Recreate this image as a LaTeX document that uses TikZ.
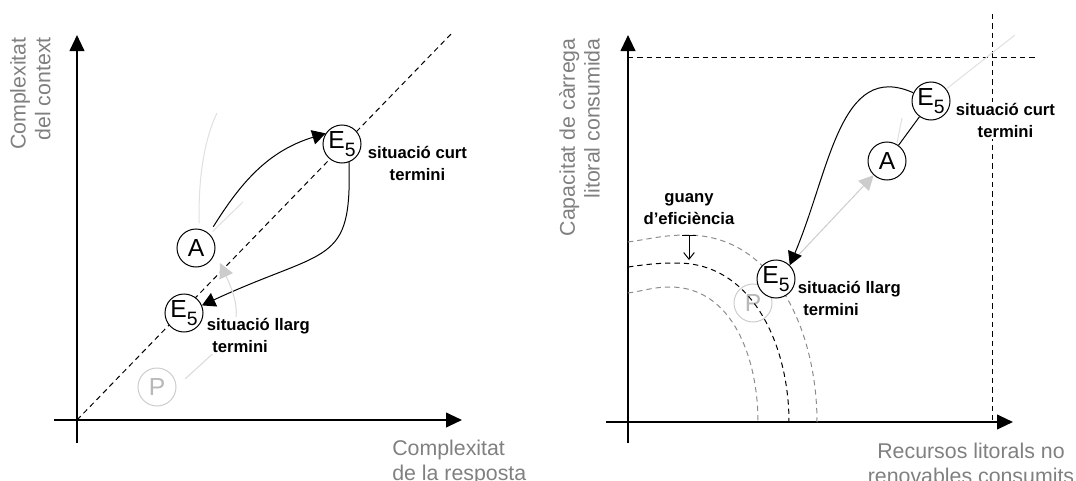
\documentclass[tikz,border=0pt]{standalone}
\usepackage{fontspec}
\setmainfont{Liberation Sans}
\usetikzlibrary{arrows.meta}
\newcommand{\Ecinc}{E\raisebox{-5.5pt}{\fontsize{14.5}{14.5}\selectfont 5}}

\begin{document}
\begin{tikzpicture}[x=0.75pt, y=0.75pt, >={Triangle[length=10pt,width=11pt]},
    estat/.style={draw, circle, fill=white, line width=0.75pt, minimum size=28.5pt, inner sep=0pt, font=\fontsize{18.5}{18.5}\selectfont},
    esvait/.style={estat, draw=black!20, text=black!28, fill=none},
    etiqueta/.style={font=\bfseries\fontsize{12.5}{17}\selectfont, inner sep=0.5pt, fill=white},
    titol/.style={text=black!50, font=\fontsize{16}{18.5}\selectfont, inner sep=0pt},
    eix/.style={line width=1.5pt, -{Triangle[length=12pt,width=11pt]}},
    tenue/.style={line width=0.75pt, draw=black!12},
    puntejat/.style={line width=0.75pt, dash pattern=on 4pt off 3pt}]
\useasboundingbox (0,0) rectangle (1076,480);

% primer grafic: eixos
\draw[eix] (77,37) -- (77,445);
\draw[eix] (54,60) -- (462,60);
\draw[puntejat] (77,60) -- (452,447);
\node[titol, rotate=90, anchor=north east, align=right] (ty1) at (10,443) {Complexitat\\del context};
\node[titol, anchor=north west, align=left] (tx1) at (392,40) {Complexitat\\de la resposta};

% estats
\node[esvait] (p1) at (157,93) {P};
\node[estat] (a1) at (196,232) {A};
\node[estat] (e5c) at (342,336) {\Ecinc};
\node[estat] (e5l) at (184,167) {\Ecinc};

% trajectories
\coordinate (fa) at (217,367);
\coordinate (fb) at (243,278);
\coordinate (pt) at (220,217);
\draw[tenue, shorten <=4pt] (a1.80) .. controls (198,300) and (204,340) .. (fa);
\draw[tenue, shorten <=3pt] (a1.45) -- (fb);
\draw[->, line width=0.75pt, shorten <=6pt] (a1.48) to[out=58, in=197] (e5c.147);
\draw[->, line width=0.75pt] (e5c.-69) .. controls (352,213) and (328,233) .. (e5l.23);
\draw[black!15, line width=0.75pt, -{Triangle[length=11pt,width=11pt,color=black!20]}, shorten <=9pt] (p1.0) to[out=43, in=-65, looseness=1.4] (pt);

% etiquetes
\node[etiqueta, anchor=north west, align=center] (lc1) at (367,335) {situació curt\\termini};
\node[etiqueta, anchor=north west, align=left] (ll1) at (206,163) {situació llarg\\\hspace*{4pt}termini};

% segon grafic: eixos
\draw[eix] (628,37) -- (628,445);
\draw[eix] (606,58) -- (1013,58);
\draw[puntejat] (628,423) -- (1036,423);
\draw[puntejat] (992,466) -- (992,60);
\node[titol, rotate=90, anchor=north east, align=right] (ty2) at (559,442) {Capacitat de càrrega\\litoral consumida};
\node[titol, anchor=north, align=center] (tx2) at (971,37) {Recursos litorals no\\renovables consumits};

% fronteres
\node[esvait] (p2) at (753,177) {P};
\draw[puntejat, black!45] (628,238) to[out=8, in=180] (687,245) to[out=0, in=90] (817,58);
\draw[puntejat] (628,213) to[out=8, in=180] (677,217) to[out=0, in=90] (789,58);
\draw[puntejat, black!45] (628,187) to[out=8, in=180] (670,193) to[out=0, in=90] (758,58);

% guany d'eficiencia
\coordinate (g1) at (689,245);
\coordinate (g2) at (689,220);
\draw[line width=0.75pt, {Bar[width=10pt]}-{Straight Barb[length=5pt,width=8pt]}] (g1) -- (g2);
\node[etiqueta, anchor=south, align=center] (gu) at (689,254) {guany\\d’eficiència};

% estats
\node[estat] (a2) at (887,319) {A};
\node[estat] (e5c2) at (931,379) {\Ecinc};
\node[estat] (e5l2) at (776,201) {\Ecinc};

% trajectories
\coordinate (fc) at (1015,445);
\coordinate (fd) at (902,362);
\draw[line width=0.75pt, black!12] (e5c2) -- (fc);
\draw[tenue] (a2.60) -- (fd);
\draw[black!20, line width=0.75pt, -{Triangle[length=11pt,width=11pt]}] (e5l2) -- (a2);
\draw[line width=0.75pt] (a2) -- (e5c2);
\draw[->, line width=0.75pt] (e5c2.155) .. controls (840,420) and (830,310) .. (e5l2.45);

% etiquetes
\node[etiqueta, anchor=north west, align=center] (lc2) at (955,378) {situació curt\\termini};
\node[etiqueta, anchor=north west, align=left] (ll2) at (797,200) {situació llarg\\\hspace*{4pt}termini};
\end{tikzpicture}
\end{document}
